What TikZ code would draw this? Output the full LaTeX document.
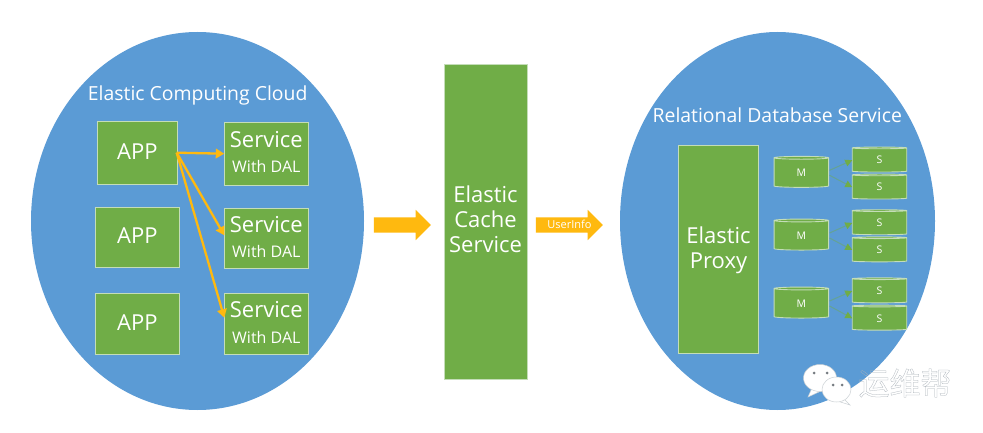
\documentclass[tikz,border=0pt]{standalone}
\usepackage{fontspec}
\setmainfont{Open Sans}
\newfontfamily\cjkfont{Noto Sans CJK SC}
\usetikzlibrary{shapes.geometric,shapes.arrows,arrows.meta}
\definecolor{cblue}{HTML}{5B9BD5}
\definecolor{cgreen}{HTML}{70AD47}
\definecolor{cedge}{HTML}{C4DDB8}
\definecolor{corange}{HTML}{FFB90F}
\definecolor{cwm}{HTML}{A8B0B8}
\newcommand{\fs}[1]{\fontsize{#1}{#1}\selectfont}
\tikzset{
  cloud disc/.style={ellipse,fill=cblue,inner sep=0,outer sep=0},
  cloud title/.style={text=white,font=\fs{19.4},inner sep=0},
  greenbox/.style={rectangle,fill=cgreen,draw=cedge,line width=0.9pt,text=white,inner sep=0,outer sep=0,align=center},
  appbox/.style={greenbox,font=\fs{22},text depth=3pt},
  svcbox/.style={greenbox,minimum width=84pt,text depth=3pt},
  tallbox/.style={greenbox,font=\fs{22},text depth=4pt},
  dbcyl/.style={cylinder,shape border rotate=90,aspect=0.3,fill=cgreen,draw=cedge,line width=0.9pt,text=white,font=\fs{10.5},inner sep=0,outer sep=0,minimum width=54.5pt,minimum height=31pt},
  scyl/.style={dbcyl,minimum height=25pt},
  fatarrow/.style={single arrow,fill=corange,inner ysep=7.5pt,inner xsep=0pt,outer sep=0,text=white,text height=0pt,text depth=0pt,single arrow head extend=7.5pt,minimum height=57pt,single arrow tip angle=90},
  orangeline/.style={draw=corange,line width=2.3pt,-{Triangle[length=8.5pt,width=9.5pt]}},
  dbline/.style={draw=cgreen!45!cblue,line width=1pt,-{Triangle[length=7pt,width=7pt,color=cgreen,fill=cgreen]}},
  bubble/.style={fill=white,draw=cwm!60,line width=0.5pt},
  bubbledot/.style={fill=cwm!70!black,circle,inner sep=0,minimum size=3pt},
}
\begin{document}
\begin{tikzpicture}[x=1pt,y=-1pt]
\useasboundingbox (0,0) rectangle (983,433);
\fill[white] (0,0) rectangle (983,433);

\node[cloud disc,minimum width=333pt,minimum height=378pt] (left) at (197.5,221) {};
\node[cloud disc,minimum width=315pt,minimum height=378pt] (right) at (777.5,221) {};
\node[cloud title] (ltitle) at (197.7,95) {Elastic Computing Cloud};
\node[cloud title] (rtitle) at (777.3,115.5) {Relational Database Service};

\node[appbox,minimum width=80pt,minimum height=62.6pt] (app1) at (137.3,153) {APP};
\node[appbox,minimum width=84.7pt,minimum height=60pt] (app2) at (137.3,237.3) {APP};
\node[appbox,minimum width=84.7pt,minimum height=61pt] (app3) at (137.3,323.8) {APP};

\node[svcbox,minimum height=62.7pt] (svc1) at (266.3,153.7) {{\fs{22}Service}\\[12pt]{\fs{16}With DAL}};
\node[svcbox,minimum height=60pt] (svc2) at (266.3,238.3) {{\fs{22}Service}\\[12pt]{\fs{16}With DAL}};
\node[svcbox,minimum height=61pt] (svc3) at (266.3,323.8) {{\fs{22}Service}\\[12pt]{\fs{16}With DAL}};

\coordinate (appout) at (176.7,152.7);
\draw[orangeline] (appout) -- (svc1.west);
\draw[orangeline] (appout) -- ([yshift=3pt]svc2.west);
\draw[orangeline] (appout) -- ([yshift=6pt]svc3.west);

\node[fatarrow] (bigarrow) at (398.5,225) {};
\node[tallbox,minimum width=83pt,minimum height=315pt] (cache) at (485.5,221.5) {Elastic\\[3pt]Cache\\[3pt]Service};
\node[fatarrow,minimum height=67pt,font=\fs{11}] (uinfo) at (565.5,225) {\hspace*{8pt}\raisebox{-3.8pt}{UserInfo}};

\node[tallbox,minimum width=80.4pt,minimum height=207.6pt] (proxy) at (718.5,249.5) {Elastic\\[3pt]Proxy};

\node[dbcyl] (m1) at (801.3,172.8) {M};
\node[dbcyl] (m2) at (801.3,235.5) {M};
\node[dbcyl] (m3) at (801.3,303.5) {M};
\node[scyl] (s1) at (879.5,160.2) {S};
\node[scyl] (s2) at (879.5,187.2) {S};
\node[scyl] (s3) at (879.5,222.9) {S};
\node[scyl] (s4) at (879.5,250) {S};
\node[scyl] (s5) at (879.5,291) {S};
\node[scyl] (s6) at (879.5,318.3) {S};

\foreach \m/\sa/\sb in {m1/s1/s2,m2/s3/s4,m3/s5/s6}{
  \draw[dbline] (\m.east) ++(1,-2.5) -- (\sa.west);
  \draw[dbline] (\m.east) ++(1,2.5) -- (\sb.west);
}

% watermark
\path[bubble] (812,388) -- (808,397) -- (821,391) -- cycle;
\node[ellipse,bubble,minimum width=33pt,minimum height=27pt,inner sep=0] (wa) at (820,378) {};
\node[bubbledot] (wa1) at (814,373) {};
\node[bubbledot] (wa2) at (827,373) {};
\path[bubble] (843,398) -- (850,405) -- (834,400) -- cycle;
\node[ellipse,bubble,minimum width=29pt,minimum height=25pt,inner sep=0] (wb) at (836.5,389.5) {};
\node[bubbledot] (wb1) at (833,385) {};
\node[bubbledot] (wb2) at (842,385) {};
\node[text=cwm,inner sep=0,font=\cjkfont\fs{31}] (wm) at (905,383) {\special{pdf:code q 1 Tr 0.25 w}运维帮\special{pdf:code Q}};
\end{tikzpicture}
\end{document}
